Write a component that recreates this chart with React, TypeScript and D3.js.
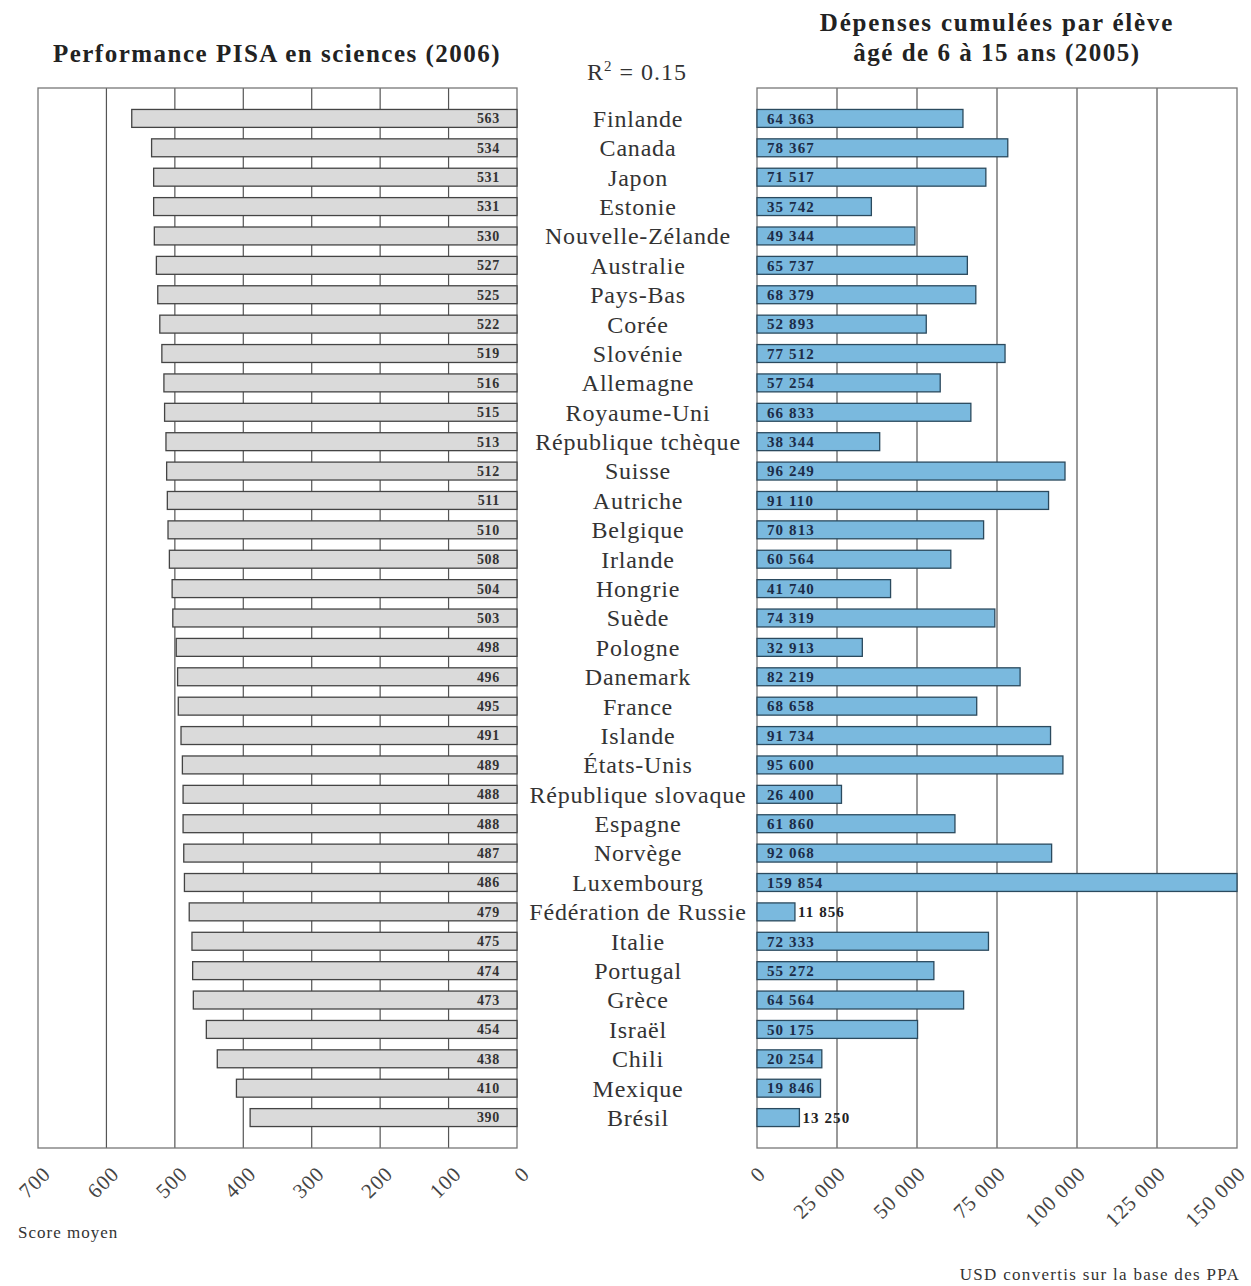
import React, { useEffect } from 'react';
import * as d3 from 'd3';

const countries = [
  'Finlande', 'Canada', 'Japon', 'Estonie', 'Nouvelle-Zélande', 'Australie', 'Pays-Bas',
  'Corée', 'Slovénie', 'Allemagne', 'Royaume-Uni', 'République tchèque', 'Suisse',
  'Autriche', 'Belgique', 'Irlande', 'Hongrie', 'Suède', 'Pologne', 'Danemark', 'France',
  'Islande', 'États-Unis', 'République slovaque', 'Espagne', 'Norvège', 'Luxembourg',
  'Fédération de Russie', 'Italie', 'Portugal', 'Grèce', 'Israël', 'Chili', 'Mexique', 'Brésil',
];

const scores = [
  563, 534, 531, 531, 530, 527, 525, 522, 519, 516, 515, 513, 512, 511, 510, 508, 504, 503,
  498, 496, 495, 491, 489, 488, 488, 487, 486, 479, 475, 474, 473, 454, 438, 410, 390,
];

const spending = [
  64363, 78367, 71517, 35742, 49344, 65737, 68379, 52893, 77512, 57254, 66833, 38344, 96249,
  91110, 70813, 60564, 41740, 74319, 32913, 82219, 68658, 91734, 95600, 26400, 61860, 92068,
  159854, 11856, 72333, 55272, 64564, 50175, 20254, 19846, 13250,
];

const scoreTicks = [0, 100, 200, 300, 400, 500, 600, 700];
const spendTicks = [0, 25000, 50000, 75000, 100000, 125000, 150000];

const FONT = '"Liberation Serif", "DejaVu Serif", serif';
const W = 1251;
const H = 1286;
const TOP = 88;
const BOTTOM = 1148;

const fmt = (v: number) => d3.format(',')(v).replace(/,/g, ' ');

export default function App() {
  useEffect(() => {
    document.body.style.margin = '0';
  }, []);

  const y = d3.scaleBand<string>()
    .domain(countries)
    .range([TOP, BOTTOM])
    .paddingInner(0.39)
    .paddingOuter(0.73);

  const xL = d3.scaleLinear().domain([0, 700]).range([517, 38]);
  const xR = d3.scaleLinear().domain([0, 150000]).range([757, 1237]);
  const bh = y.bandwidth();

  return (
    <svg width={W} height={H} style={{ display: 'block', background: '#fff' }} fontFamily={FONT}>
      {/* titles */}
      <text x={277} y={62} textAnchor="middle" fontSize={25} fontWeight="bold" fill="#222" letterSpacing={1.5}>
        Performance PISA en sciences (2006)
      </text>
      <text x={997} y={31} textAnchor="middle" fontSize={25} fontWeight="bold" fill="#222" letterSpacing={1.8}>
        Dépenses cumulées par élève
      </text>
      <text x={997} y={61} textAnchor="middle" fontSize={25} fontWeight="bold" fill="#222" letterSpacing={1.5}>
        âgé de 6 à 15 ans (2005)
      </text>
      <text x={637} y={80} textAnchor="middle" fontSize={24} fill="#333" letterSpacing={1}>
        R<tspan dy={-9} fontSize={15}>2</tspan><tspan dy={9}> = 0.15</tspan>
      </text>

      {/* left panel grid */}
      {scoreTicks.filter(t => t > 0 && t < 700).map(t => (
        <line key={t} x1={xL(t)} x2={xL(t)} y1={TOP} y2={BOTTOM} stroke="#555" strokeWidth={1.2} />
      ))}
      <rect x={38} y={TOP} width={517 - 38} height={BOTTOM - TOP} fill="none" stroke="#777" strokeWidth={1.3} />

      {/* right panel grid */}
      {spendTicks.filter(t => t > 0 && t < 150000).map(t => (
        <line key={t} x1={xR(t)} x2={xR(t)} y1={TOP} y2={BOTTOM} stroke="#555" strokeWidth={1.2} />
      ))}
      <rect x={757} y={TOP} width={1237 - 757} height={BOTTOM - TOP} fill="none" stroke="#777" strokeWidth={1.3} />

      {/* left bars */}
      {countries.map((c, i) => (
        <g key={c}>
          <rect x={xL(scores[i])} y={y(c)} width={xL(0) - xL(scores[i])} height={bh}
            fill="#dadada" stroke="#444" strokeWidth={1.3} />
          <text x={500} y={(y(c) as number) + bh / 2} dy="0.35em" textAnchor="end"
            fontSize={14} fontWeight="bold" fill="#333" letterSpacing={0.7}>{scores[i]}</text>
        </g>
      ))}

      {/* right bars */}
      {countries.map((c, i) => {
        const x1 = Math.min(xR(spending[i]), 1237);
        const inside = spending[i] > 18000;
        return (
          <g key={c}>
            <rect x={xR(0)} y={y(c)} width={x1 - xR(0)} height={bh}
              fill="#7ab9de" stroke="#2b4a5e" strokeWidth={1.3} />
            <text x={inside ? 767 : x1 + 3} y={(y(c) as number) + bh / 2} dy="0.35em"
              fontSize={15} fontWeight="bold" fill={inside ? '#1c2c48' : '#222'} letterSpacing={1.1}>
              {fmt(spending[i])}
            </text>
          </g>
        );
      })}

      {/* country names */}
      {countries.map(c => (
        <text key={c} x={638} y={(y(c) as number) + bh / 2} dy="0.35em" textAnchor="middle"
          fontSize={24} fill="#333" letterSpacing={0.8}>{c}</text>
      ))}

      {/* axis tick labels */}
      {scoreTicks.map(t => (
        <text key={t} transform={`translate(${xL(t) + 14},1175) rotate(-45)`} textAnchor="end"
          fontSize={21} fill="#444" letterSpacing={1}>{t}</text>
      ))}
      {spendTicks.map(t => (
        <text key={t} transform={`translate(${xR(t) + 10},1175) rotate(-45)`} textAnchor="end"
          fontSize={21} fill="#444" letterSpacing={1}>{fmt(t)}</text>
      ))}

      <text x={18} y={1238} fontSize={17} fill="#333" letterSpacing={1}>Score moyen</text>
      <text x={1240} y={1280} textAnchor="end" fontSize={17} fill="#333" letterSpacing={1.3}>USD convertis sur la base des PPA</text>
    </svg>
  );
}
